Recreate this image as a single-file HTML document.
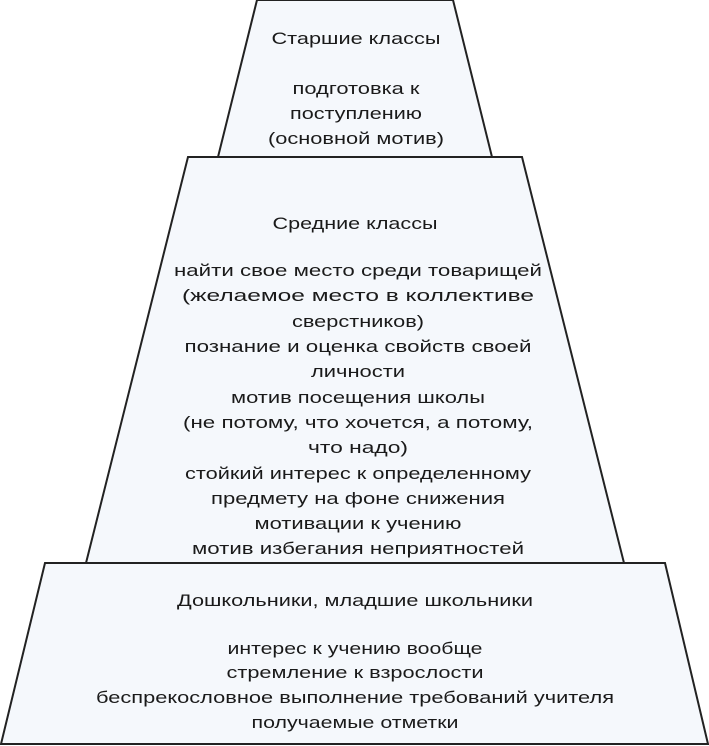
<!DOCTYPE html>
<html><head><meta charset="utf-8"><style>
html,body{margin:0;padding:0;background:#fff;width:709px;height:746px;overflow:hidden}
text{font-family:"Liberation Sans",Arial,sans-serif;font-size:17px;fill:#1a1a1a}
</style></head><body>
<svg width="709" height="746" viewBox="0 0 709 746" xmlns="http://www.w3.org/2000/svg">
<g fill="#f5f8fc" stroke="#222" stroke-width="2">
<polygon points="257,0 453,0 492,157 218,157"/>
<polygon points="188,157 522,157 624,563 86,563"/>
<polygon points="45,563 665,563 708,744 1,744"/>
</g>
<g text-anchor="middle">
<text x="356" y="44" textLength="169" lengthAdjust="spacingAndGlyphs">Старшие классы</text>
<text x="356" y="94" textLength="127" lengthAdjust="spacingAndGlyphs">подготовка к</text>
<text x="356" y="119" textLength="132" lengthAdjust="spacingAndGlyphs">поступлению</text>
<text x="356" y="144" textLength="176" lengthAdjust="spacingAndGlyphs">(основной мотив)</text>

<text x="355" y="229" textLength="165" lengthAdjust="spacingAndGlyphs">Средние классы</text>
<text x="358" y="276" textLength="368" lengthAdjust="spacingAndGlyphs">найти свое место среди товарищей</text>
<text x="358" y="301" textLength="352" lengthAdjust="spacingAndGlyphs">(желаемое место в коллективе</text>
<text x="358" y="327" textLength="132" lengthAdjust="spacingAndGlyphs">сверстников)</text>
<text x="358" y="352" textLength="347" lengthAdjust="spacingAndGlyphs">познание и оценка свойств своей</text>
<text x="358" y="377" textLength="94" lengthAdjust="spacingAndGlyphs">личности</text>
<text x="358" y="403" textLength="254" lengthAdjust="spacingAndGlyphs">мотив посещения школы</text>
<text x="358" y="428" textLength="350" lengthAdjust="spacingAndGlyphs">(не потому, что хочется, а потому,</text>
<text x="358" y="453" textLength="100" lengthAdjust="spacingAndGlyphs">что надо)</text>
<text x="358" y="479" textLength="346" lengthAdjust="spacingAndGlyphs">стойкий интерес к определенному</text>
<text x="358" y="504" textLength="294" lengthAdjust="spacingAndGlyphs">предмету на фоне снижения</text>
<text x="358" y="529" textLength="207" lengthAdjust="spacingAndGlyphs">мотивации к учению</text>
<text x="358" y="554" textLength="332" lengthAdjust="spacingAndGlyphs">мотив избегания неприятностей</text>

<text x="355" y="606" textLength="356" lengthAdjust="spacingAndGlyphs">Дошкольники, младшие школьники</text>
<text x="355" y="654" textLength="255" lengthAdjust="spacingAndGlyphs">интерес к учению вообще</text>
<text x="355" y="678" textLength="257" lengthAdjust="spacingAndGlyphs">стремление к взрослости</text>
<text x="355" y="703" textLength="518" lengthAdjust="spacingAndGlyphs">беспрекословное выполнение требований учителя</text>
<text x="355" y="728" textLength="207" lengthAdjust="spacingAndGlyphs">получаемые отметки</text>
</g>
</svg>
</body></html>
